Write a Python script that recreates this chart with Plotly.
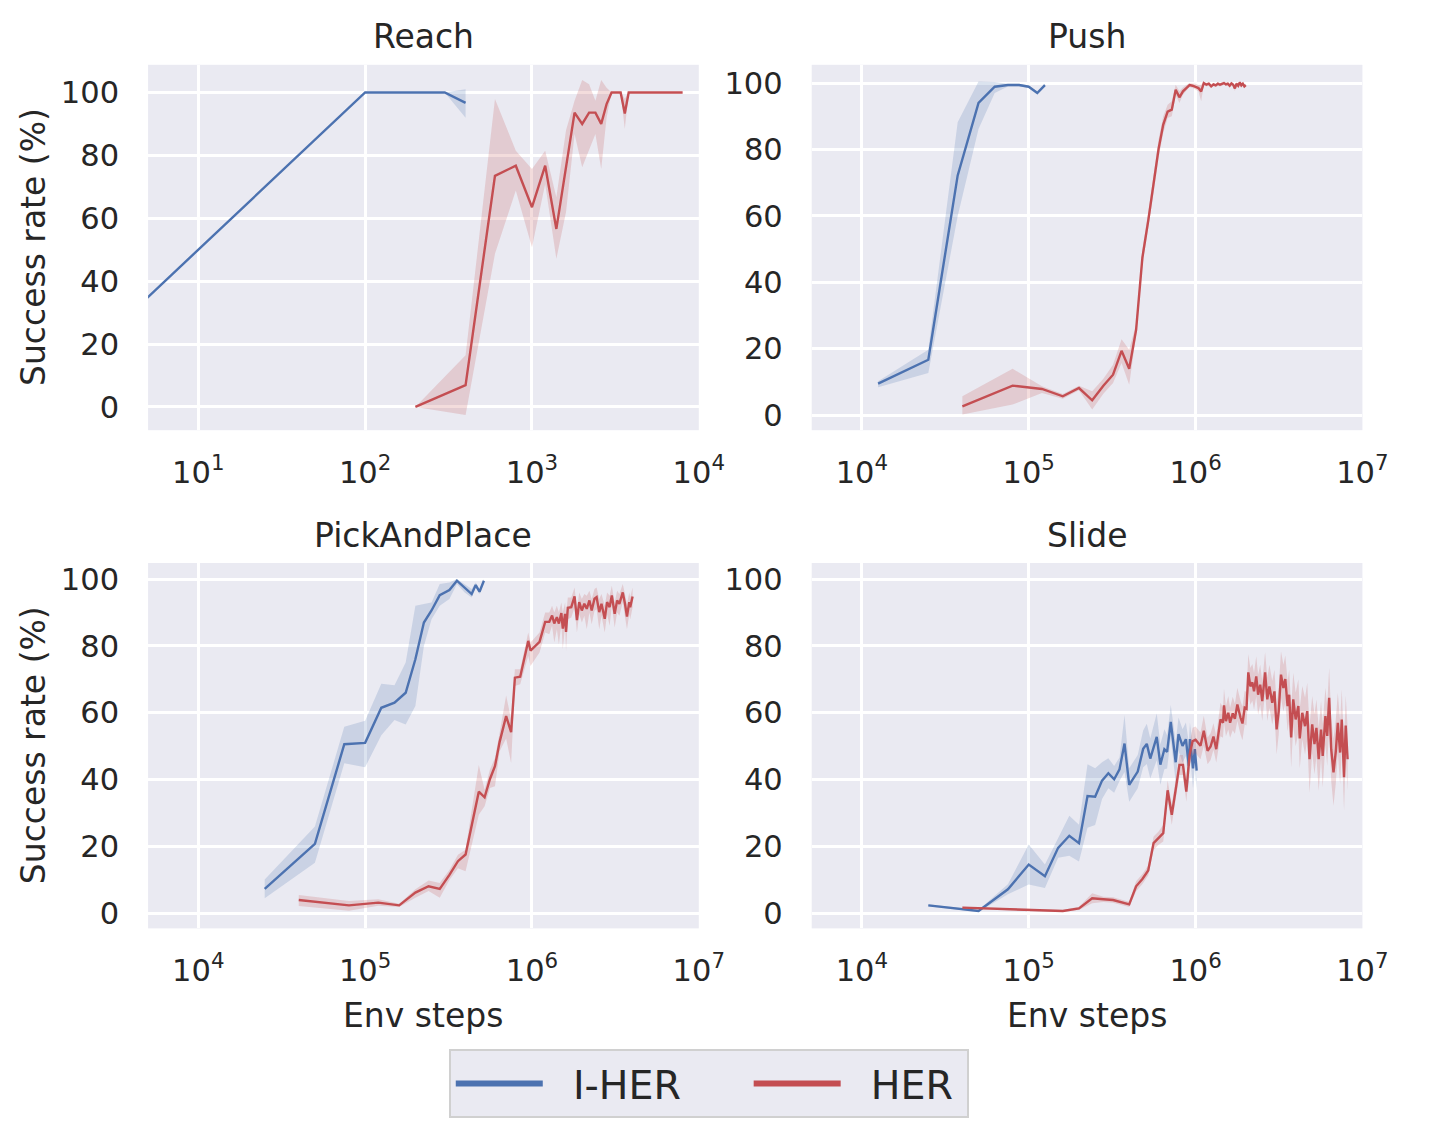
import numpy as np
import plotly.graph_objects as go

BLUE = "#4C72B0"
RED = "#C44E52"
BLUE_FILL = "rgba(76,114,176,0.2)"
RED_FILL = "rgba(196,78,82,0.2)"
BG = "#EAEAF2"
INK = "#262626"
FONT = "DejaVu Sans"

# the page keeps the browser's 8px body margin, so the figure is made to fit inside it
PAGE_W, PAGE_H, PAD = 1435, 1130, 8
W, H = PAGE_W - 2 * PAD, PAGE_H - 2 * PAD

# ---- Reach (x in env steps) ------------------------------------------------
reach_ih_x = [1, 100, 200, 300, 400]
reach_ih_y = [0, 100, 100, 100, 96.7]
reach_ih_lo = [0, 100, 100, 100, 92.0]
reach_ih_hi = [0, 100, 100, 100, 101.0]

reach_her_x = [200, 400, 600, 800, 1000, 1200, 1400, 1600, 1800, 2000, 2200, 2400,
               2600, 2800, 3000, 3200, 3400, 3600, 3800, 4000, 5000, 6000, 7000, 8000]
reach_her_y = [0, 6.9, 73.5, 76.7, 63.5, 76.7, 56.6, 76.0, 93.6, 90.0, 93.6, 93.6,
               90.0, 96.3, 100, 100, 100, 93.3, 100, 100, 100, 100, 100, 100]
reach_her_lo = [0, -2.6, 48.7, 68.8, 50.8, 70.9, 47.1, 62.0, 86.8, 76.2, 81.5, 86.8,
                75.7, 92.0, 100, 100, 100, 88.4, 100, 100, 100, 100, 100, 100]
reach_her_hi = [0, 16.4, 97.9, 81.5, 75.7, 81.5, 66.7, 88.0, 97.4, 104.0, 102.6, 97.4,
                104.0, 101.5, 100, 100, 100, 98.0, 100, 100, 100, 100, 100, 100]

# ---- Push (x in thousands of env steps) -------------------------------------
push_ih_k = [12.5, 25, 37.5, 50, 62.5, 75, 87.5, 100, 112.5, 125]
push_ih_y = [9.5, 16.7, 72.2, 94.0, 98.9, 99.4, 99.4, 98.9, 97.0, 99.4]
push_ih_lo = [8.4, 12.7, 60.0, 86.2, 97.0, 99.0, 99.0, 98.5, 96.5, 99.0]
push_ih_hi = [10.2, 19.7, 88.2, 100.5, 100.3, 99.8, 99.8, 99.3, 97.5, 99.8]

push_her_k = [40, 80, 120, 160, 200, 240, 280, 320, 360, 400, 440, 480, 520, 560,
              600, 640, 680, 720, 760, 800, 840, 880, 920, 960, 1000, 1040, 1080,
              1120, 1160, 1200, 1240, 1280, 1320, 1360, 1400, 1440, 1480, 1520,
              1560, 1600, 1640, 1680, 1720, 1760, 1800, 1840, 1880, 1920, 1960, 2000]
push_her_y = [2.7, 8.9, 7.9, 5.7, 8.2, 4.5, 8.9, 12.2, 19.4, 14.0, 25.7, 47.5, 58.5,
              69.5, 80.2, 87.5, 91.4, 92.0, 98.0, 95.7, 97.5, 98.5, 99.4, 99.2, 98.9,
              98.5, 97.5, 100.0, 99.5, 99.8, 99.0, 99.6, 99.3, 99.8, 99.5, 99.7, 100.0,
              99.6, 99.8, 99.2, 99.9, 99.5, 98.4, 99.8, 99.2, 100.2, 99.3, 99.8, 99.0, 99.4]
push_her_lo = [0.2, 3.2, 6.7, 5.0, 7.5, 1.7, 6.5, 9.7, 15.7, 9.2, 24.0, 45.0, 56.0,
               67.0, 77.5, 85.0, 89.5, 90.0, 96.5, 94.0, 96.5, 97.5, 98.8, 98.5, 98.0,
               97.5, 94.5, 99.5, 99.0, 99.3, 98.5, 99.1, 98.8, 99.3, 99.0, 99.2, 99.5,
               99.1, 99.3, 98.7, 99.4, 99.0, 97.6, 99.3, 98.7, 99.7, 98.8, 99.3, 98.5, 99.0]
push_her_hi = [5.7, 14.0, 8.7, 6.4, 8.9, 7.2, 11.0, 15.2, 22.9, 19.7, 27.5, 50.0, 61.0,
               72.0, 83.0, 90.0, 93.5, 94.5, 99.5, 97.5, 98.7, 99.4, 100.0, 99.9, 99.8,
               99.4, 99.5, 100.4, 100.0, 100.3, 99.5, 100.1, 99.8, 100.3, 100.0, 100.2,
               100.5, 100.1, 100.3, 99.7, 100.4, 100.0, 99.2, 100.3, 99.7, 100.7, 99.8,
               100.3, 99.5, 99.8]

# ---- PickAndPlace ------------------------------------------------------------
pick_ih_k = [25, 50, 75, 100, 125, 150, 175, 200, 225, 250, 280, 320, 355, 395, 435, 460, 485, 515]
pick_ih_y = [7.3, 20.8, 50.6, 51.0, 61.5, 63.0, 66.0, 76.0, 87.0, 90.6, 95.2, 96.7,
             99.5, 97.5, 95.5, 98.2, 96.2, 99.5]
pick_ih_lo = [4.5, 15.1, 44.9, 43.7, 53.3, 57.8, 56.5, 62.0, 80.0, 88.0, 92.0, 94.0,
              98.5, 96.0, 94.5, 97.5, 95.5, 99.0]
pick_ih_hi = [10.1, 26.0, 55.8, 57.6, 68.7, 68.2, 75.0, 92.0, 92.5, 93.0, 98.5, 99.0,
              100.0, 98.5, 97.0, 99.0, 97.0, 100.0]

pick_her_k = [40, 80, 120, 160, 200, 240, 280, 320, 360, 400, 480, 520, 560, 600, 640,
              700, 750, 790, 850, 950, 980, 1110, 1200, 1270, 1320, 1360, 1410, 1450,
              1500, 1530, 1580, 1600, 1640, 1720, 1800, 1860, 1920, 1990, 2060, 2130,
              2210, 2280, 2370, 2440, 2530, 2610, 2730, 2820, 2920, 3010, 3130, 3240,
              3340, 3500, 3610, 3710, 3830, 3880, 4010]
pick_her_y = [4.0, 2.4, 3.2, 2.4, 6.2, 8.1, 7.3, 11.5, 15.6, 17.6, 36.4, 34.7, 40.2,
              44.0, 51.3, 59.0, 54.2, 70.5, 70.8, 81.5, 78.6, 81.2, 87.2, 87.2, 89.1,
              86.7, 88.6, 86.7, 89.8, 85.2, 89.6, 84.2, 91.4, 91.6, 94.8, 87.7, 93.1,
              90.6, 92.6, 91.1, 93.6, 90.6, 94.1, 94.6, 90.1, 92.6, 88.1, 93.1, 91.6,
              95.1, 89.6, 93.6, 92.6, 96.0, 92.6, 88.8, 93.1, 91.6, 94.8]
pick_her_lo = [2.2, 0.8, 2.3, 1.9, 4.7, 6.7, 4.7, 10.0, 13.5, 12.6, 29.5, 32.0, 37.5,
               38.0, 48.5, 52.3, 45.0, 68.0, 68.5, 77.0, 74.0, 78.0, 84.0, 83.5, 86.0,
               81.0, 85.0, 80.5, 86.5, 79.0, 86.0, 78.5, 88.0, 88.5, 91.5, 84.0, 89.5,
               87.0, 89.0, 85.0, 90.0, 86.5, 90.5, 91.0, 85.0, 89.0, 84.0, 89.5, 86.0,
               92.0, 85.5, 90.0, 89.0, 93.0, 89.0, 85.0, 89.5, 88.0, 91.5]
pick_her_hi = [5.5, 3.7, 4.2, 2.9, 7.2, 9.8, 9.1, 13.0, 17.5, 19.0, 44.4, 37.0, 43.0,
               46.5, 54.0, 65.2, 58.0, 73.0, 73.0, 84.0, 81.0, 84.0, 90.0, 90.0, 92.0,
               90.0, 92.0, 90.0, 93.0, 90.0, 93.0, 89.0, 94.5, 94.5, 97.5, 91.0, 96.0,
               94.0, 95.5, 95.0, 96.5, 94.0, 97.0, 97.5, 94.0, 95.5, 92.0, 96.0, 95.0,
               98.0, 93.0, 96.5, 95.5, 98.5, 95.5, 92.5, 96.0, 94.5, 97.5]

# ---- Slide -------------------------------------------------------------------
slide_ih_k = [25, 50, 75, 100, 125, 150, 175, 200, 225, 250, 275, 300, 325, 350, 375,
              400, 450, 485, 510, 535, 585, 615, 650, 675, 710, 760, 790, 835, 875,
              910, 925, 965, 990, 1015]
slide_ih_y = [2.4, 0.7, 7.2, 14.6, 11.1, 19.6, 23.2, 21.0, 35.1, 34.9, 39.7, 41.9,
              40.1, 43.1, 50.8, 38.4, 42.4, 49.2, 50.7, 46.3, 52.8, 44.5, 49.1, 48.3,
              57.3, 45.2, 53.6, 50.1, 52.1, 44.2, 52.1, 43.4, 49.1, 42.7]
slide_ih_ci = [0.3, 0.3, 1.5, 6.0, 3.5, 3.0, 6.0, 5.5, 9.5, 8.5, 5.5, 4.5, 4.0, 3.5,
               8.5, 5.0, 5.0, 5.5, 6.0, 6.0, 7.0, 6.0, 6.0, 5.0, 5.0, 6.0, 5.0, 5.0,
               5.0, 7.0, 5.0, 6.0, 6.0, 6.0]

slide_her_k = [40, 160, 200, 240, 280, 320, 400, 440, 480, 520, 560, 600, 640, 680,
               720, 760, 800, 840, 880, 920, 960, 1000, 1070, 1120, 1180, 1230, 1280,
               1330, 1410, 1460, 1480, 1520, 1570, 1610, 1670, 1720, 1780, 1860, 1910,
               1970, 2020, 2070, 2130, 2190, 2240, 2310, 2370, 2440, 2510, 2610, 2690,
               2770, 2880, 2970, 3060, 3150, 3250, 3360, 3450, 3560, 3640, 3740, 3850,
               3980, 4130, 4210, 4360, 4530, 4670, 4820, 5000, 5160, 5300, 5470, 5650,
               5780, 6000, 6150, 6320, 6500, 6710, 6930, 7120, 7350, 7520, 7760, 7940, 8150]
slide_her_y = [1.7, 0.7, 1.5, 4.5, 4.2, 4.0, 2.7, 8.1, 10.3, 12.8, 21.0, 22.5, 24.0,
               36.8, 29.5, 37.0, 44.4, 44.4, 36.4, 47.3, 51.5, 51.9, 50.1, 54.6, 48.6,
               49.9, 52.9, 49.1, 58.0, 57.0, 62.2, 57.5, 60.0, 57.0, 59.8, 58.2, 62.5,
               58.5, 56.8, 61.5, 61.2, 72.1, 67.9, 69.1, 66.4, 70.9, 65.4, 68.4, 63.5,
               72.1, 64.0, 67.9, 63.0, 66.4, 55.0, 60.5, 71.4, 67.4, 70.1, 62.0, 65.4,
               52.6, 64.0, 58.0, 62.0, 52.3, 60.0, 56.0, 60.5, 46.1, 56.5, 50.6, 55.5,
               46.1, 55.0, 47.1, 59.0, 53.1, 64.5, 49.1, 42.2, 48.6, 57.0, 48.1, 58.0,
               40.7, 56.2, 46.1]
slide_her_ci = [0.3, 0.3, 0.5, 1.5, 0.8, 0.8, 0.8, 1.5, 1.5, 1.5, 2.0, 2.0, 2.5,
                3.0, 3.0, 3.0, 3.0, 3.0, 3.0, 3.5, 4.0, 4.0, 4.0, 4.5, 4.0, 4.0, 4.0,
                4.0, 5.0, 4.5, 5.0, 4.5, 5.0, 4.5, 5.0, 4.5, 5.0, 5.0, 5.0, 5.0, 5.0,
                5.5, 5.5, 5.5, 5.5, 6.0, 6.0, 6.0, 6.0, 6.0, 6.5, 6.5, 6.5, 6.5, 7.5,
                7.0, 7.0, 7.0, 7.0, 7.5, 7.5, 9.0, 8.0, 8.0, 8.0, 9.0, 8.0, 8.5, 8.5,
                10.0, 8.5, 9.0, 8.5, 9.5, 8.5, 9.5, 8.5, 9.0, 9.0, 9.5, 10.0, 9.5,
                9.0, 9.5, 9.0, 10.0, 9.0, 9.5]

# ---- layout geometry (page pixels measured on the reference) -----------------
COLS = [(150.7, 711.7), (826.7, 1387.7)]
ROWS = [(64.0, 430.7), (564.0, 930.7)]


def px(x):
    return (x - PAD) / W


def py(y):
    return 1 - (y - PAD) / H


def steps(k):
    return np.asarray(k, dtype=float) * 1000.0


fig = go.Figure()


def add_series(x, y, lo, hi, color, fill, n):
    x = np.asarray(x, dtype=float)
    lo = np.asarray(lo, dtype=float)
    hi = np.asarray(hi, dtype=float)
    xa, ya = ("x", "y") if n == 1 else (f"x{n}", f"y{n}")
    fig.add_trace(go.Scatter(
        x=np.concatenate([x, x[::-1]]), y=np.concatenate([hi, lo[::-1]]),
        fill="toself", fillcolor=fill, line=dict(width=0), mode="lines",
        hoverinfo="skip", showlegend=False, xaxis=xa, yaxis=ya,
    ))
    fig.add_trace(go.Scatter(
        x=x, y=y, mode="lines", line=dict(color=color, width=2.4),
        showlegend=False, xaxis=xa, yaxis=ya,
    ))


def sym(y, ci):
    y = np.asarray(y, dtype=float)
    ci = np.asarray(ci, dtype=float)
    return y - ci, y + ci


add_series(reach_ih_x, reach_ih_y, reach_ih_lo, reach_ih_hi, BLUE, BLUE_FILL, 1)
add_series(reach_her_x, reach_her_y, reach_her_lo, reach_her_hi, RED, RED_FILL, 1)
add_series(steps(push_ih_k), push_ih_y, push_ih_lo, push_ih_hi, BLUE, BLUE_FILL, 2)
add_series(steps(push_her_k), push_her_y, push_her_lo, push_her_hi, RED, RED_FILL, 2)
add_series(steps(pick_ih_k), pick_ih_y, pick_ih_lo, pick_ih_hi, BLUE, BLUE_FILL, 3)
add_series(steps(pick_her_k), pick_her_y, pick_her_lo, pick_her_hi, RED, RED_FILL, 3)
add_series(steps(slide_ih_k), slide_ih_y, *sym(slide_ih_y, slide_ih_ci), BLUE, BLUE_FILL, 4)
add_series(steps(slide_her_k), slide_her_y, *sym(slide_her_y, slide_her_ci), RED, RED_FILL, 4)

# legend-only entries (thicker handles, like the reference legend);
# non-breaking spaces set the gap between handle and label, and between entries
NB, THIN = "\u00a0", "\u2009"
fig.add_trace(go.Scatter(x=[None], y=[None], mode="lines", name=NB * 2 + "I-HER" + NB * 5,
                         line=dict(color=BLUE, width=6)))
fig.add_trace(go.Scatter(x=[None], y=[None], mode="lines", name=NB * 2 + "HER" + THIN,
                         line=dict(color=RED, width=6)))

TICK = dict(family=FONT, size=30.5, color=INK)
reach_ticks = [10, 100, 1000, 10000]
big_ticks = [1e4, 1e5, 1e6, 1e7]


def xaxis(c, ticks, rng, anchor):
    return dict(
        type="log", domain=[px(COLS[c][0]), px(COLS[c][1])], range=rng, anchor=anchor,
        tickvals=ticks,
        ticktext=[f"10<sup>{int(round(np.log10(t)))}</sup>" for t in ticks],
        showgrid=True, gridcolor="white", gridwidth=2.8, zeroline=False,
        showline=False, ticks="", tickfont=TICK, ticklabelstandoff=21,
    )


def yaxis(r, rng, anchor):
    return dict(
        domain=[py(ROWS[r][1]), py(ROWS[r][0])], range=rng, anchor=anchor,
        tickvals=[0, 20, 40, 60, 80, 100],
        showgrid=True, gridcolor="white", gridwidth=2.8, zeroline=False,
        showline=False, ticks="", tickfont=TICK, ticklabelstandoff=28,
    )


lg5k = float(np.log10(5000))
fig.update_layout(
    xaxis=xaxis(0, reach_ticks, [float(np.log10(5)), 4], "y"),
    yaxis=yaxis(0, [-7.4, 108.8], "x"),
    xaxis2=xaxis(1, big_ticks, [lg5k, 7], "y2"),
    yaxis2=yaxis(0, [-4.5, 105.5], "x2"),
    xaxis3=xaxis(0, big_ticks, [lg5k, 7], "y3"),
    yaxis3=yaxis(1, [-4.5, 104.8], "x3"),
    xaxis4=xaxis(1, big_ticks, [lg5k, 7], "y4"),
    yaxis4=yaxis(1, [-4.5, 104.8], "x4"),
)

# titles and axis labels
LABEL = dict(family=FONT, size=33, color=INK)
titles = ["Reach", "Push", "PickAndPlace", "Slide"]
for i, t in enumerate(titles):
    r, c = divmod(i, 2)
    fig.add_annotation(text=t, xref="paper", yref="paper",
                       x=px(sum(COLS[c]) / 2), y=py(ROWS[r][0] - 28),
                       xanchor="center", yanchor="middle", showarrow=False, font=LABEL)
for r in range(2):
    fig.add_annotation(text="Success rate (%)", xref="paper", yref="paper",
                       x=px(34), y=py(sum(ROWS[r]) / 2), textangle=-90,
                       xanchor="center", yanchor="middle", showarrow=False, font=LABEL)
for c in range(2):
    fig.add_annotation(text="Env steps", xref="paper", yref="paper",
                       x=px(sum(COLS[c]) / 2), y=py(1018),
                       xanchor="center", yanchor="middle", showarrow=False, font=LABEL)

fig.update_layout(
    width=W, height=H, autosize=False,
    margin=dict(l=0, r=0, t=0, b=0),
    paper_bgcolor="white", plot_bgcolor=BG,
    font=dict(family=FONT, color=INK),
    legend=dict(
        orientation="h", x=px(457), xanchor="left", y=py(1052), yanchor="top",
        bgcolor=BG, bordercolor="#D0D0D0", borderwidth=2,
        font=dict(family=FONT, size=39.5, color=INK),
        itemwidth=87,
    ),
)

fig.write_html("out.html")
